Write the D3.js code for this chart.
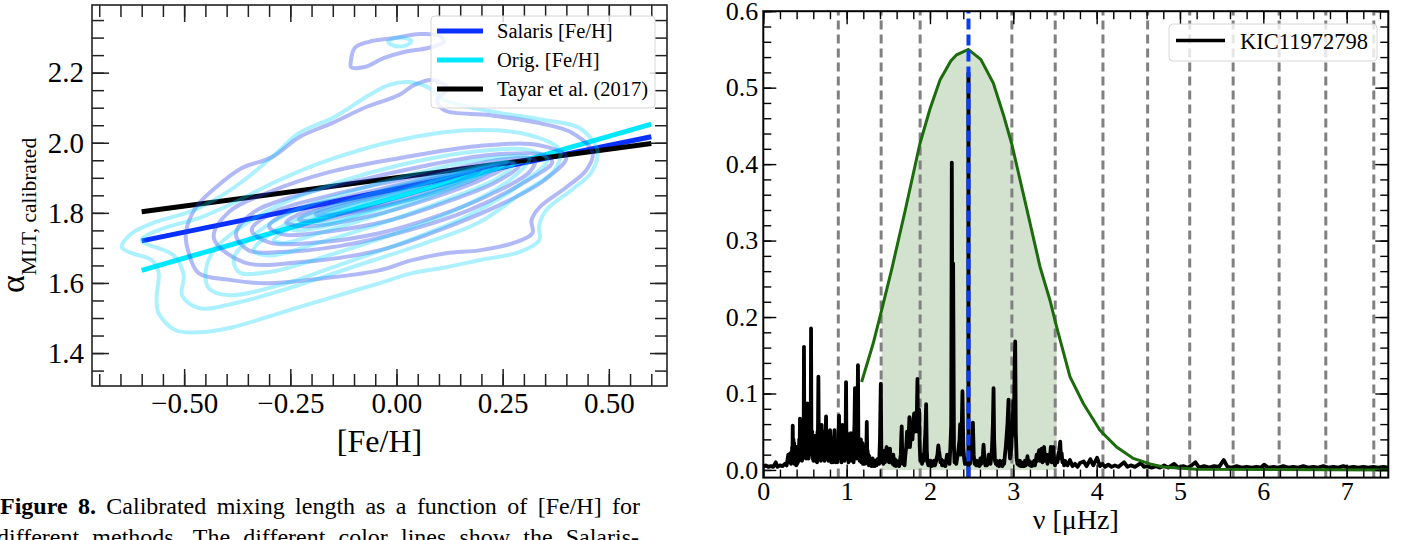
<!DOCTYPE html>
<html><head><meta charset="utf-8">
<script src="https://cdn.jsdelivr.net/npm/d3@7"></script>
<style>body{margin:0;background:#fff}svg{display:block}svg text{font-family:'Liberation Serif','Times New Roman',serif}</style>
</head><body>
<svg id="c" width="1416" height="540"></svg>
<script>
// ---------------- LEFT PANEL DATA ----------------
const fehMajor = [-0.5, -0.25, 0, 0.25, 0.5];
const alphaMajor = [1.4, 1.6, 1.8, 2.0, 2.2];
const fitFeh = [-0.6, 0.6];
const salarisFit = [1.720, 2.017];
const origFit = [1.636, 2.053];
const tayarFit = [1.803, 1.998];
const fitLabels = ["Salaris [Fe/H]", "Orig. [Fe/H]", "Tayar et al. (2017)"];

const salarisContours = [
  [[-0.107,2.236],[-0.098,2.271],[-0.065,2.288],[-0.005,2.299],[0.054,2.310],[0.101,2.305],[0.112,2.288],[0.077,2.271],[0.018,2.259],[-0.029,2.242],[-0.076,2.216],[-0.107,2.216]],
  [[-0.496,1.742],[-0.472,1.816],[-0.425,1.873],[-0.364,1.928],[-0.293,1.959],[-0.229,2.016],[-0.152,2.056],[-0.071,2.102],[0.006,2.136],[0.042,2.165],[0.084,2.179],[0.120,2.156],[0.096,2.122],[0.112,2.093],[0.219,2.079],[0.337,2.056],[0.414,2.028],[0.462,1.971],[0.447,1.922],[0.400,1.873],[0.337,1.816],[0.318,1.779],[0.320,1.742],[0.273,1.713],[0.195,1.693],[0.117,1.685],[0.037,1.665],[-0.041,1.636],[-0.152,1.616],[-0.308,1.599],[-0.388,1.608],[-0.466,1.628],[-0.489,1.685]],
  [[-0.430,1.728],[-0.395,1.802],[-0.300,1.859],[-0.159,1.916],[0.006,1.956],[0.195,1.991],[0.336,1.993],[0.400,1.959],[0.348,1.893],[0.242,1.822],[0.101,1.751],[-0.041,1.693],[-0.230,1.659],[-0.359,1.659]],
  [[-0.378,1.739],[-0.336,1.802],[-0.230,1.851],[-0.088,1.893],[0.054,1.931],[0.219,1.965],[0.348,1.965],[0.367,1.945],[0.289,1.879],[0.171,1.808],[0.030,1.751],[-0.135,1.705],[-0.277,1.688],[-0.348,1.693]],
  [[-0.341,1.751],[-0.289,1.802],[-0.182,1.842],[-0.041,1.882],[0.101,1.916],[0.242,1.951],[0.325,1.951],[0.313,1.916],[0.219,1.851],[0.101,1.793],[-0.041,1.742],[-0.182,1.716],[-0.300,1.716]],
  [[-0.300,1.762],[-0.242,1.808],[-0.135,1.840],[0.006,1.880],[0.148,1.915],[0.266,1.942],[0.289,1.935],[0.230,1.885],[0.124,1.834],[-0.017,1.778],[-0.159,1.747],[-0.265,1.738]],
  [[-0.260,1.773],[-0.206,1.808],[-0.088,1.845],[0.054,1.888],[0.195,1.925],[0.270,1.940],[0.200,1.895],[0.077,1.840],[-0.065,1.790],[-0.206,1.762]],
  [[-0.230,1.782],[-0.159,1.818],[-0.041,1.852],[0.101,1.895],[0.240,1.935],[0.180,1.895],[0.054,1.845],[-0.088,1.803],[-0.194,1.776]],
  [[-0.190,1.795],[-0.112,1.825],[0.006,1.860],[0.120,1.897],[0.200,1.925],[0.150,1.892],[0.006,1.835],[-0.135,1.797]]
];
const origContours = [
  [[-0.020,2.288],[-0.005,2.298],[0.018,2.299],[0.035,2.291],[0.025,2.279],[-0.003,2.276]],
  [[-0.647,1.702],[-0.623,1.742],[-0.567,1.774],[-0.489,1.802],[-0.430,1.836],[-0.359,1.893],[-0.288,1.965],[-0.229,2.028],[-0.147,2.073],[-0.064,2.136],[-0.017,2.165],[0.030,2.173],[0.077,2.156],[0.112,2.122],[0.230,2.088],[0.348,2.065],[0.431,2.042],[0.473,1.979],[0.459,1.916],[0.412,1.865],[0.353,1.808],[0.336,1.765],[0.336,1.722],[0.289,1.688],[0.195,1.665],[0.117,1.645],[0.037,1.628],[-0.041,1.599],[-0.152,1.559],[-0.229,1.531],[-0.307,1.502],[-0.388,1.473],[-0.466,1.459],[-0.520,1.465],[-0.560,1.513],[-0.565,1.559],[-0.560,1.628],[-0.576,1.665],[-0.623,1.685]],
  [[-0.600,1.722],[-0.548,1.756],[-0.465,1.785],[-0.371,1.836],[-0.277,1.893],[-0.159,1.951],[0.006,2.008],[0.171,2.036],[0.313,2.022],[0.384,1.979],[0.372,1.922],[0.289,1.851],[0.195,1.773],[0.054,1.708],[-0.112,1.642],[-0.253,1.585],[-0.371,1.545],[-0.465,1.528],[-0.505,1.565],[-0.501,1.622],[-0.525,1.679]],
  [[-0.449,1.636],[-0.430,1.693],[-0.371,1.756],[-0.277,1.822],[-0.135,1.888],[0.006,1.936],[0.171,1.973],[0.313,1.979],[0.355,1.951],[0.289,1.879],[0.171,1.793],[0.030,1.722],[-0.135,1.651],[-0.277,1.593],[-0.395,1.565],[-0.442,1.585]],
  [[-0.383,1.671],[-0.336,1.736],[-0.253,1.799],[-0.112,1.859],[0.030,1.908],[0.195,1.951],[0.313,1.956],[0.266,1.893],[0.148,1.813],[0.006,1.745],[-0.159,1.679],[-0.300,1.631],[-0.371,1.631]],
  [[-0.336,1.693],[-0.277,1.756],[-0.159,1.815],[-0.017,1.870],[0.124,1.915],[0.276,1.942],[0.242,1.902],[0.124,1.840],[-0.017,1.778],[-0.182,1.715],[-0.300,1.678]],
  [[-0.289,1.722],[-0.218,1.775],[-0.088,1.832],[0.054,1.882],[0.190,1.928],[0.260,1.945],[0.140,1.875],[-0.017,1.805],[-0.182,1.742],[-0.265,1.714]],
  [[-0.242,1.750],[-0.159,1.800],[-0.017,1.850],[0.120,1.902],[0.235,1.932],[0.110,1.868],[-0.041,1.810],[-0.182,1.758]],
  [[-0.194,1.772],[-0.100,1.815],[0.030,1.865],[0.185,1.915],[0.080,1.858],[-0.065,1.805],[-0.159,1.772]]
];

// ---------------- RIGHT PANEL DATA ----------------
const nuMajor = [0, 1, 2, 3, 4, 5, 6, 7];
const powMajor = [0.0, 0.1, 0.2, 0.3, 0.4, 0.5, 0.6];
const numax = 2.462;
const numaxBlackTop = 0.52;
const modeLines = [0.90, 1.414, 1.882, 2.983, 3.503, 4.076, 4.612, 5.117, 5.638, 6.19, 6.75, 7.326];
const fillRange = [1.42, 3.52];
const starLabel = "KIC11972798";
const envelope = [[1.18,0.115],[1.32,0.166],[1.42,0.209],[1.54,0.262],[1.70,0.338],[1.88,0.427],[2.00,0.472],[2.12,0.510],[2.25,0.535],[2.32,0.543],[2.46,0.550],[2.61,0.537],[2.76,0.506],[2.88,0.465],[2.98,0.427],[3.15,0.347],[3.32,0.266],[3.44,0.222],[3.52,0.187],[3.68,0.122],[3.84,0.087],[4.04,0.052],[4.24,0.030],[4.44,0.015],[4.64,0.008],[4.80,0.004],[5.20,0.001],[7.50,0.000]];

const specLow = [[0,0.004],[0.03,0.006],[0.06,0.004],[0.09,0.005],[0.12,0.004],[0.15,0.010],[0.17,0.004],[0.20,0.006],[0.23,0.005],[0.26,0.008],[0.28,0.006],[0.30,0.020],[0.31,0.010],[0.325,0.022],[0.333,0.008]];
const specBand = [[0.340,0.010],[0.346,0.030],[0.350,0.015],[0.353,0.058],[0.357,0.025],[0.362,0.040],[0.366,0.012],[0.371,0.035],[0.376,0.008],[0.381,0.028],[0.386,0.010],[0.391,0.030],[0.396,0.006],[0.401,0.022],[0.406,0.008],[0.411,0.030],[0.416,0.010],[0.421,0.025],[0.426,0.012],[0.431,0.040],[0.436,0.020],[0.440,0.067],[0.445,0.025],[0.450,0.045],[0.455,0.015],[0.460,0.038],[0.465,0.012],[0.470,0.030],[0.475,0.015],[0.480,0.055],[0.484,0.030],[0.488,0.161],[0.492,0.060],[0.496,0.030],[0.500,0.050],[0.505,0.020],[0.510,0.045],[0.515,0.015],[0.520,0.035],[0.524,0.020],[0.528,0.087],[0.532,0.030],[0.537,0.048],[0.542,0.015],[0.547,0.055],[0.552,0.020],[0.557,0.040],[0.562,0.025],[0.566,0.070],[0.570,0.090],[0.573,0.185],[0.577,0.050],[0.582,0.035],[0.587,0.050],[0.592,0.015],[0.597,0.040],[0.602,0.012],[0.607,0.030],[0.611,0.044],[0.615,0.015],[0.620,0.038],[0.625,0.012],[0.630,0.045],[0.635,0.018],[0.640,0.035],[0.645,0.010],[0.650,0.050],[0.655,0.040],[0.661,0.122],[0.666,0.040],[0.671,0.025],[0.676,0.048],[0.681,0.015],[0.686,0.040],[0.691,0.012],[0.696,0.045],[0.700,0.059],[0.705,0.020],[0.710,0.045],[0.715,0.015],[0.720,0.050],[0.725,0.018],[0.730,0.040],[0.735,0.012],[0.740,0.045],[0.745,0.025],[0.750,0.055],[0.753,0.070],[0.757,0.030],[0.762,0.015],[0.767,0.045],[0.772,0.020],[0.777,0.040],[0.782,0.012],[0.787,0.035],[0.792,0.015],[0.797,0.045],[0.801,0.052],[0.806,0.020],[0.811,0.040],[0.816,0.010],[0.821,0.035],[0.826,0.015],[0.831,0.042],[0.836,0.010],[0.841,0.030],[0.846,0.015],[0.850,0.045],[0.854,0.052],[0.858,0.020],[0.863,0.035],[0.868,0.010],[0.873,0.032],[0.878,0.012],[0.883,0.028],[0.888,0.010],[0.893,0.035],[0.898,0.020],[0.903,0.050],[0.909,0.071],[0.914,0.030],[0.919,0.015],[0.924,0.045],[0.929,0.020],[0.934,0.040],[0.939,0.010],[0.944,0.035],[0.949,0.059],[0.954,0.025],[0.959,0.040],[0.964,0.015],[0.969,0.045],[0.974,0.012],[0.979,0.040],[0.984,0.025],[0.989,0.060],[0.993,0.115],[0.997,0.045],[1.002,0.025],[1.007,0.048],[1.012,0.015],[1.017,0.040],[1.022,0.010],[1.027,0.038],[1.032,0.015],[1.037,0.035],[1.042,0.012],[1.047,0.030],[1.050,0.048],[1.054,0.020],[1.059,0.035],[1.064,0.012],[1.069,0.040],[1.074,0.015],[1.079,0.035],[1.084,0.010],[1.089,0.045],[1.094,0.060],[1.100,0.107],[1.105,0.045],[1.110,0.020],[1.115,0.040],[1.120,0.015],[1.125,0.050],[1.130,0.070],[1.136,0.137],[1.141,0.040],[1.146,0.020],[1.151,0.040],[1.156,0.012],[1.161,0.038],[1.166,0.015],[1.171,0.040],[1.176,0.010],[1.181,0.030],[1.186,0.012],[1.191,0.035],[1.196,0.008],[1.201,0.028],[1.206,0.012],[1.211,0.025],[1.216,0.008],[1.221,0.022],[1.226,0.010],[1.231,0.030],[1.236,0.020],[1.242,0.063],[1.247,0.020],[1.252,0.025],[1.257,0.008],[1.262,0.020],[1.267,0.006],[1.272,0.018],[1.277,0.008],[1.282,0.015],[1.287,0.006],[1.292,0.014],[1.297,0.005],[1.302,0.012],[1.307,0.006],[1.312,0.015],[1.317,0.005],[1.322,0.012],[1.327,0.006],[1.332,0.010],[1.337,0.005],[1.342,0.012],[1.347,0.006]];
const specMid = [[1.36,0.006],[1.368,0.014],[1.375,0.008],[1.383,0.012],[1.39,0.008],[1.40,0.04],[1.41,0.113],[1.416,0.03],[1.425,0.01],[1.433,0.018],[1.44,0.008],[1.45,0.025],[1.46,0.01],[1.47,0.022],[1.48,0.030],[1.49,0.012],[1.50,0.024],[1.51,0.01],[1.52,0.028],[1.53,0.012],[1.54,0.02],[1.55,0.008],[1.56,0.02],[1.57,0.006],[1.58,0.014],[1.59,0.005],[1.60,0.012],[1.61,0.006],[1.62,0.01],[1.63,0.005],[1.64,0.012],[1.65,0.02],[1.656,0.045],[1.661,0.057],[1.667,0.02],[1.675,0.008],[1.685,0.015],[1.695,0.006],[1.705,0.02],[1.715,0.03],[1.725,0.05],[1.735,0.03],[1.745,0.045],[1.753,0.069],[1.76,0.03],[1.77,0.045],[1.78,0.06],[1.79,0.04],[1.80,0.065],[1.81,0.074],[1.82,0.05],[1.83,0.075],[1.84,0.06],[1.85,0.119],[1.857,0.05],[1.864,0.07],[1.87,0.079],[1.877,0.03],[1.885,0.012],[1.895,0.02],[1.905,0.008],[1.915,0.02],[1.925,0.012],[1.935,0.03],[1.945,0.05],[1.954,0.086],[1.962,0.025],[1.97,0.01],[1.98,0.006],[1.99,0.012],[2.00,0.006],[2.01,0.012],[2.02,0.005],[2.03,0.01],[2.04,0.006],[2.05,0.012],[2.06,0.006],[2.07,0.01],[2.08,0.015],[2.09,0.02],[2.10,0.032],[2.108,0.025],[2.115,0.02],[2.125,0.01],[2.135,0.014],[2.145,0.006],[2.155,0.012],[2.165,0.006],[2.175,0.01],[2.185,0.005],[2.195,0.012],[2.205,0.02],[2.215,0.01],[2.225,0.015],[2.235,0.008],[2.245,0.03],[2.255,0.06],[2.262,0.402],[2.27,0.10],[2.278,0.27],[2.288,0.03],[2.295,0.01],[2.305,0.015],[2.315,0.008],[2.325,0.015],[2.335,0.02],[2.345,0.03],[2.355,0.04],[2.362,0.06],[2.372,0.02],[2.382,0.06],[2.39,0.103],[2.40,0.03],[2.41,0.015],[2.42,0.008],[2.43,0.014],[2.44,0.008],[2.45,0.012],[2.46,0.01],[2.47,0.015],[2.48,0.008],[2.49,0.02],[2.50,0.03],[2.508,0.045],[2.515,0.062],[2.525,0.02],[2.535,0.008],[2.545,0.012],[2.555,0.006],[2.565,0.012],[2.575,0.006],[2.585,0.01],[2.595,0.005],[2.605,0.015],[2.615,0.008],[2.625,0.012],[2.635,0.02],[2.643,0.033],[2.655,0.012],[2.665,0.006],[2.675,0.012],[2.685,0.006],[2.695,0.01],[2.705,0.02],[2.715,0.01],[2.725,0.008],[2.735,0.015],[2.745,0.03],[2.755,0.06],[2.763,0.107],[2.77,0.04],[2.78,0.012],[2.79,0.008],[2.80,0.012],[2.81,0.006],[2.82,0.01],[2.83,0.005],[2.84,0.012],[2.85,0.006],[2.86,0.01],[2.87,0.005],[2.88,0.012],[2.89,0.008],[2.90,0.02],[2.91,0.03],[2.92,0.045],[2.93,0.06],[2.943,0.092],[2.952,0.03],[2.96,0.015],[2.97,0.02],[2.98,0.04],[2.99,0.05],[3.00,0.09],[3.008,0.06],[3.015,0.13],[3.023,0.168],[3.03,0.05],[3.04,0.015],[3.05,0.008],[3.06,0.012],[3.07,0.006],[3.08,0.012],[3.09,0.005],[3.10,0.01],[3.11,0.005],[3.12,0.008],[3.13,0.005],[3.14,0.012],[3.15,0.006],[3.16,0.01],[3.17,0.018],[3.18,0.008],[3.19,0.012],[3.20,0.006],[3.21,0.01],[3.22,0.005],[3.23,0.01],[3.24,0.006],[3.25,0.012],[3.26,0.006],[3.27,0.012],[3.28,0.02],[3.29,0.012],[3.30,0.02],[3.31,0.026],[3.32,0.012],[3.33,0.02],[3.34,0.028],[3.35,0.01],[3.36,0.02],[3.37,0.03],[3.38,0.012],[3.39,0.018],[3.40,0.02],[3.41,0.008],[3.42,0.012],[3.43,0.02],[3.44,0.015],[3.45,0.03],[3.46,0.01],[3.47,0.02],[3.483,0.030],[3.49,0.01],[3.50,0.006],[3.51,0.012],[3.52,0.015],[3.53,0.01],[3.54,0.02],[3.55,0.025],[3.563,0.037],[3.572,0.015],[3.58,0.022],[3.59,0.01],[3.6,0.012],[3.61,0.006]];
const specHigh = [[3.62,0.012],[3.65,0.006],[3.68,0.013],[3.71,0.005],[3.74,0.008],[3.77,0.004],[3.80,0.009],[3.845,0.011],[3.88,0.005],[3.925,0.014],[3.96,0.006],[4.005,0.016],[4.04,0.005],[4.07,0.008],[4.10,0.004],[4.14,0.007],[4.18,0.004],[4.22,0.006],[4.26,0.004],[4.33,0.010],[4.37,0.004],[4.41,0.006],[4.46,0.004],[4.53,0.009],[4.57,0.004],[4.61,0.005],[4.66,0.003],[4.71,0.005],[4.76,0.003],[4.81,0.006],[4.86,0.003],[4.93,0.008],[4.98,0.003],[5.04,0.005],[5.09,0.003],[5.14,0.006],[5.186,0.010],[5.23,0.003],[5.29,0.005],[5.35,0.003],[5.41,0.005],[5.47,0.004],[5.525,0.013],[5.57,0.004],[5.62,0.003],[5.68,0.005],[5.74,0.003],[5.80,0.004],[5.86,0.003],[5.92,0.004],[5.97,0.003],[6.01,0.007],[6.06,0.003],[6.12,0.004],[6.18,0.003],[6.24,0.005],[6.30,0.003],[6.36,0.004],[6.42,0.003],[6.48,0.005],[6.54,0.003],[6.60,0.004],[6.66,0.003],[6.72,0.005],[6.78,0.003],[6.84,0.004],[6.90,0.003],[6.96,0.005],[7.02,0.003],[7.08,0.004],[7.14,0.003],[7.20,0.004],[7.26,0.003],[7.32,0.004],[7.38,0.003],[7.44,0.004],[7.50,0.003]];

const captionLine1 = ["Calibrated","mixing","length","as","a","function","of","[Fe/H]","for"];
const captionLine2 = ["different","methods.","The","different","color","lines","show","the","Salaris-"];

// ---------------- DRAWING ----------------
const FONT = "'Liberation Serif','Times New Roman',serif";
const svg = d3.select("#c");

function axesFrame(g, x, y, o) {
  const [xa, xb] = x.range(), [ya, yb] = y.range();
  const style = sel => {
    sel.attr("font-family", null).attr("font-size", null);
    sel.select(".domain").remove();
    sel.selectAll(".tick line").attr("stroke", o.color).attr("stroke-width", o.tickW);
    sel.selectAll("text").style("font-family", FONT).style("font-size", o.fs + "px").attr("fill", "#000");
  };
  g.append("g").attr("transform", `translate(0,${ya})`).call(d3.axisBottom(x).tickValues(o.xMinor).tickSize(-o.minLen).tickFormat("")).call(style);
  g.append("g").attr("transform", `translate(0,${ya})`).call(d3.axisBottom(x).tickValues(o.xMajor).tickSize(-o.majLen).tickPadding(o.xPad).tickFormat(o.xFmt)).call(style);
  g.append("g").attr("transform", `translate(0,${yb})`).call(d3.axisTop(x).tickValues(o.xMinor).tickSize(-o.minLen).tickFormat("")).call(style);
  g.append("g").attr("transform", `translate(0,${yb})`).call(d3.axisTop(x).tickValues(o.xMajor).tickSize(-o.majLen).tickFormat("")).call(style);
  g.append("g").attr("transform", `translate(${xa},0)`).call(d3.axisLeft(y).tickValues(o.yMinor).tickSize(-o.minLen).tickFormat("")).call(style);
  g.append("g").attr("transform", `translate(${xa},0)`).call(d3.axisLeft(y).tickValues(o.yMajor).tickSize(-o.majLen).tickPadding(o.yPad).tickFormat(o.yFmt)).call(style);
  g.append("g").attr("transform", `translate(${xb},0)`).call(d3.axisRight(y).tickValues(o.yMinor).tickSize(-o.minLen).tickFormat("")).call(style);
  g.append("g").attr("transform", `translate(${xb},0)`).call(d3.axisRight(y).tickValues(o.yMajor).tickSize(-o.majLen).tickFormat("")).call(style);
  g.append("rect").attr("x", xa).attr("y", yb).attr("width", xb - xa).attr("height", ya - yb)
    .attr("fill", "none").attr("stroke", o.color).attr("stroke-width", o.frameW);
}
function txt(g, x, y, s, fs, anchor) {
  return g.append("text").attr("x", x).attr("y", y).attr("text-anchor", anchor || "start")
    .style("font-family", FONT).style("font-size", fs + "px").text(s);
}

// ======= Left panel =======
const xL = d3.scaleLinear([-0.717, 0.637], [92, 667]);
const yL = d3.scaleLinear([1.306, 2.393], [386, 5]);
const gL = svg.append("g");
svg.append("clipPath").attr("id", "clipL").append("rect")
  .attr("x", 92).attr("y", 5).attr("width", 575).attr("height", 381);
const plotL = gL.append("g").attr("clip-path", "url(#clipL)");

const fitLine = d3.line().x(d => xL(d[0])).y(d => yL(d[1]));
const fits = [
  {vals: salarisFit, color: "#0a30ff"},
  {vals: origFit, color: "#00e8ff"},
  {vals: tayarFit, color: "#000000"}
];
fits.forEach(f => {
  plotL.append("path").datum(fitFeh.map((v, i) => [v, f.vals[i]]))
    .attr("d", fitLine).attr("fill", "none").attr("stroke", f.color).attr("stroke-width", 5);
});

const loop = d3.line().x(d => xL(d[0])).y(d => yL(d[1])).curve(d3.curveCatmullRomClosed.alpha(0.5));
plotL.append("g").selectAll("path").data(salarisContours).join("path")
  .attr("d", loop).attr("fill", "none").attr("stroke", "rgb(40,60,232)")
  .attr("stroke-opacity", 0.36).attr("stroke-width", 4);
plotL.append("g").selectAll("path").data(origContours).join("path")
  .attr("d", loop).attr("fill", "none").attr("stroke", "rgb(0,212,255)")
  .attr("stroke-opacity", 0.32).attr("stroke-width", 4);

axesFrame(gL, xL, yL, {
  color: "#222", tickW: 1.5, frameW: 1.6, fs: 29, majLen: 17, minLen: 12,
  xMajor: fehMajor, xMinor: d3.range(-0.70, 0.64, 0.05).map(v => +v.toFixed(2)),
  yMajor: alphaMajor, yMinor: d3.range(1.35, 2.40, 0.05).map(v => +v.toFixed(2)),
  xPad: 6, yPad: 8, xFmt: d3.format(".2f"), yFmt: d3.format(".1f")
});

const legL = gL.append("g");
legL.append("rect").attr("x", 431).attr("y", 16).attr("width", 224).attr("height", 92).attr("rx", 4)
  .attr("fill", "#fff").attr("fill-opacity", 0.8).attr("stroke", "#d6d6d6").attr("stroke-width", 1);
fits.forEach((f, i) => {
  const yy = 31 + i * 29;
  legL.append("line").attr("x1", 437).attr("x2", 483).attr("y1", yy).attr("y2", yy)
    .attr("stroke", f.color).attr("stroke-width", 5);
  txt(legL, 497, yy + 7, fitLabels[i], 20.5);
});

txt(gL, 379.5, 452, "[Fe/H]", 32, "middle");
const yLab = gL.append("text").attr("transform", "translate(24,293) rotate(-90)")
  .style("font-family", FONT).style("font-size", "34px");
yLab.append("tspan").text("α");
yLab.append("tspan").style("font-size", "21.5px").attr("dy", 12).text("MLT, calibrated");

function justifyLine(words, boldWords, x0, x1, yBase, fs) {
  const g = svg.append("g");
  const all = boldWords.map(w => ({w, b: true})).concat(words.map(w => ({w, b: false})));
  const nodes = all.map(d => txt(g, 0, yBase, d.w, fs).style("font-weight", d.b ? "bold" : "normal"));
  const widths = nodes.map(n => n.node().getComputedTextLength());
  const gap = (x1 - x0 - d3.sum(widths)) / (nodes.length - 1);
  let cx = x0;
  nodes.forEach((n, i) => { n.attr("x", cx); cx += widths[i] + gap; });
}
justifyLine(captionLine1, ["Figure", "8."], 0, 640, 514, 24);
justifyLine(captionLine2, [], -3, 639, 545, 24);

// ======= Right panel =======
const xR = d3.scaleLinear([0, 7.5], [763.3, 1388.3]);
const yR = d3.scaleLinear([-0.01, 0.6], [477.6, 11.2]);
const gR = svg.append("g");
svg.append("clipPath").attr("id", "clipR").append("rect")
  .attr("x", 763.3).attr("y", 11.2).attr("width", 625).attr("height", 466.4);
const plotR = gR.append("g").attr("clip-path", "url(#clipR)");

const fillPts = envelope.filter(d => d[0] >= fillRange[0] && d[0] <= fillRange[1]);
plotR.append("path").datum(fillPts)
  .attr("d", d3.area().x(d => xR(d[0])).y0(yR(0)).y1(d => yR(d[1])))
  .attr("fill", "#d2e2cf");

plotR.append("g").selectAll("line").data(modeLines).join("line")
  .attr("x1", d => xR(d)).attr("x2", d => xR(d)).attr("y1", yR(-0.01)).attr("y2", yR(0.6))
  .attr("stroke", "#808080").attr("stroke-width", 3).attr("stroke-dasharray", "9,5");

const spectrum = specLow.concat(specBand, specMid, specHigh);
plotR.append("path").datum(spectrum)
  .attr("d", d3.line().x(d => xR(d[0])).y(d => yR(d[1])))
  .attr("fill", "none").attr("stroke", "#000").attr("stroke-width", 3.8).attr("stroke-linejoin", "round");

plotR.append("path").datum(envelope)
  .attr("d", d3.line().x(d => xR(d[0])).y(d => yR(d[1])))
  .attr("fill", "none").attr("stroke", "#1c6b0c").attr("stroke-width", 3);

plotR.append("line").attr("x1", xR(numax)).attr("x2", xR(numax)).attr("y1", yR(-0.01)).attr("y2", yR(numaxBlackTop))
  .attr("stroke", "#000").attr("stroke-width", 4);
plotR.append("line").attr("x1", xR(numax)).attr("x2", xR(numax)).attr("y1", yR(-0.01)).attr("y2", yR(0.6))
  .attr("stroke", "#0a3cff").attr("stroke-width", 4).attr("stroke-dasharray", "11,5");

axesFrame(gR, xR, yR, {
  color: "#000", tickW: 1.4, frameW: 2, fs: 26, majLen: 13, minLen: 8,
  xMajor: nuMajor, xMinor: d3.range(0, 7.6, 0.2).map(v => +v.toFixed(1)),
  yMajor: powMajor, yMinor: d3.range(0, 0.61, 0.02).map(v => +v.toFixed(2)),
  xPad: 4, yPad: 5, xFmt: d3.format("d"), yFmt: d3.format(".1f")
});

const legR = gR.append("g");
legR.append("rect").attr("x", 1169).attr("y", 24).attr("width", 208).attr("height", 37).attr("rx", 4)
  .attr("fill", "#fff").attr("fill-opacity", 0.8).attr("stroke", "#d6d6d6").attr("stroke-width", 1);
legR.append("line").attr("x1", 1176).attr("x2", 1225).attr("y1", 40.5).attr("y2", 40.5)
  .attr("stroke", "#000").attr("stroke-width", 3.5);
txt(legR, 1240, 48.5, starLabel, 22.5);

txt(gR, 1075.8, 529, "ν [μHz]", 28, "middle");
</script>
</body></html>
